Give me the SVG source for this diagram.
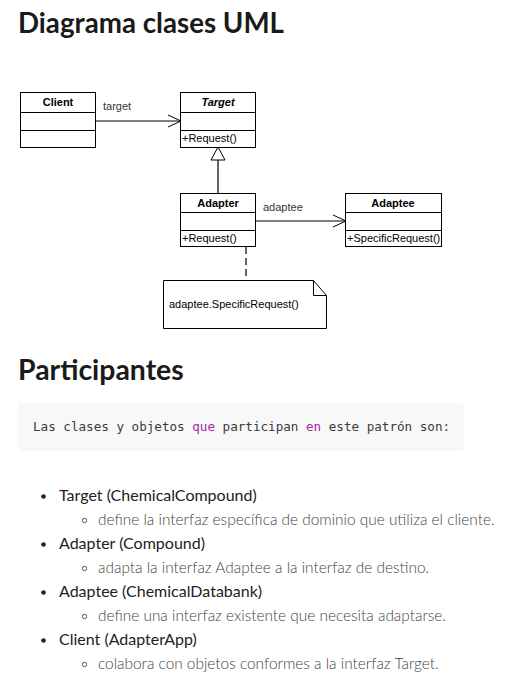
<svg xmlns="http://www.w3.org/2000/svg" width="526" height="685" viewBox="0 0 526 685">
<style>
.h{font-family:Lato,"Liberation Sans",sans-serif;font-weight:bold;fill:#1a1a1a}
.box{fill:#fff;stroke:#000;stroke-width:1}
.cn{font-family:"Liberation Sans",Arial,sans-serif;font-size:11px;font-weight:bold;fill:#000;text-anchor:middle}
.m{font-family:"Liberation Sans",Arial,sans-serif;font-size:11px;fill:#000}
.lbl{font-family:"Liberation Sans",Arial,sans-serif;font-size:11px;fill:#333}
.code{font-family:"DejaVu Sans Mono","Liberation Mono",monospace;font-size:12.6px;fill:#383a42}
.kw{fill:#a626a4}
.li{font-family:Lato,"Liberation Sans",sans-serif;font-size:16px;font-weight:400;fill:#222}
.sub{font-family:Lato,"Liberation Sans",sans-serif;font-size:15.4px;font-weight:300;fill:#444}
.line{stroke:#000;stroke-width:1;fill:none}
</style>
<defs>
<marker id="open" markerWidth="14" markerHeight="14" refX="13" refY="7" orient="auto" markerUnits="userSpaceOnUse">
<path d="M0,1 L13,7 L0,13" fill="none" stroke="#000" stroke-width="1"/>
</marker>
</defs>
<rect width="526" height="685" fill="#fff"/>
<text class="h" x="18" y="33" font-size="27.7">Diagrama clases UML</text>

<g id="connectors">
<line class="line" x1="96" y1="121" x2="181" y2="121" marker-end="url(#open)"/>
<text class="lbl" x="103" y="110">target</text>
<line x1="218" y1="160" x2="218" y2="193" stroke="#333" stroke-width="1.5"/>
<polygon points="218,147 211,160 225,160" fill="#fff" stroke="#000" stroke-width="1"/>
<line class="line" x1="255" y1="221" x2="346" y2="221" marker-end="url(#open)"/>
<text class="lbl" x="263" y="211">adaptee</text>
<line x1="246" y1="247" x2="246" y2="280" stroke="#000" stroke-width="1.2" stroke-dasharray="7,4"/>
</g>

<g id="client">
<rect class="box" x="20.5" y="92.5" width="75" height="55"/>
<line class="line" x1="20.5" y1="112.5" x2="95.5" y2="112.5"/>
<line class="line" x1="20.5" y1="130.5" x2="95.5" y2="130.5"/>
<text class="cn" x="58" y="106">Client</text>
</g>

<g id="target">
<rect class="box" x="180.5" y="92.5" width="75" height="55"/>
<line class="line" x1="180.5" y1="112.5" x2="255.5" y2="112.5"/>
<line class="line" x1="180.5" y1="130.5" x2="255.5" y2="130.5"/>
<text class="cn" x="218" y="106" font-style="italic">Target</text>
<text class="m" x="182" y="142">+Request()</text>
</g>

<g id="adapter">
<rect class="box" x="180.5" y="193.5" width="75" height="53"/>
<line class="line" x1="180.5" y1="212.5" x2="255.5" y2="212.5"/>
<line class="line" x1="180.5" y1="230.5" x2="255.5" y2="230.5"/>
<text class="cn" x="218" y="207">Adapter</text>
<text class="m" x="182" y="242">+Request()</text>
</g>

<g id="adaptee">
<rect class="box" x="345.5" y="193.5" width="96" height="53"/>
<line class="line" x1="345.5" y1="212.5" x2="441.5" y2="212.5"/>
<line class="line" x1="345.5" y1="230.5" x2="441.5" y2="230.5"/>
<text class="cn" x="393" y="207">Adaptee</text>
<text class="m" x="347" y="242">+SpecificRequest()</text>
</g>

<g id="note">
<path d="M163.5,280.5 H313.5 L326.5,295.5 V328.5 H163.5 Z" fill="#fff" stroke="#000" stroke-width="1"/>
<path d="M313.5,280.5 V295.5 H326.5" fill="none" stroke="#000" stroke-width="1"/>
<text class="m" x="169" y="308">adaptee.SpecificRequest()</text>
</g>

<text class="h" x="18" y="380" font-size="28.4">Participantes</text>

<rect x="18" y="403" width="446" height="48" rx="4" fill="#f8f8f8"/>
<text class="code" x="33" y="431">Las clases y objetos <tspan class="kw">que</tspan> participan <tspan class="kw">en</tspan> este patrón son:</text>

<g>
<circle cx="43.5" cy="496.5" r="2.3" fill="#222"/>
<text class="li" x="59" y="501">Target (ChemicalCompound)</text>
<circle cx="84.5" cy="520.5" r="2.2" fill="none" stroke="#555" stroke-width="1"/>
<text class="sub" x="98" y="525">define la interfaz específica de dominio que utiliza el cliente.</text>
<circle cx="43.5" cy="544.5" r="2.3" fill="#222"/>
<text class="li" x="59" y="549">Adapter (Compound)</text>
<circle cx="84.5" cy="568.5" r="2.2" fill="none" stroke="#555" stroke-width="1"/>
<text class="sub" x="98" y="573">adapta la interfaz Adaptee a la interfaz de destino.</text>
<circle cx="43.5" cy="592.5" r="2.3" fill="#222"/>
<text class="li" x="59" y="597">Adaptee (ChemicalDatabank)</text>
<circle cx="84.5" cy="616.5" r="2.2" fill="none" stroke="#555" stroke-width="1"/>
<text class="sub" x="98" y="621">define una interfaz existente que necesita adaptarse.</text>
<circle cx="43.5" cy="640.5" r="2.3" fill="#222"/>
<text class="li" x="59" y="645">Client (AdapterApp)</text>
<circle cx="84.5" cy="664.5" r="2.2" fill="none" stroke="#555" stroke-width="1"/>
<text class="sub" x="98" y="669">colabora con objetos conformes a la interfaz Target.</text>
</g>
</svg>
